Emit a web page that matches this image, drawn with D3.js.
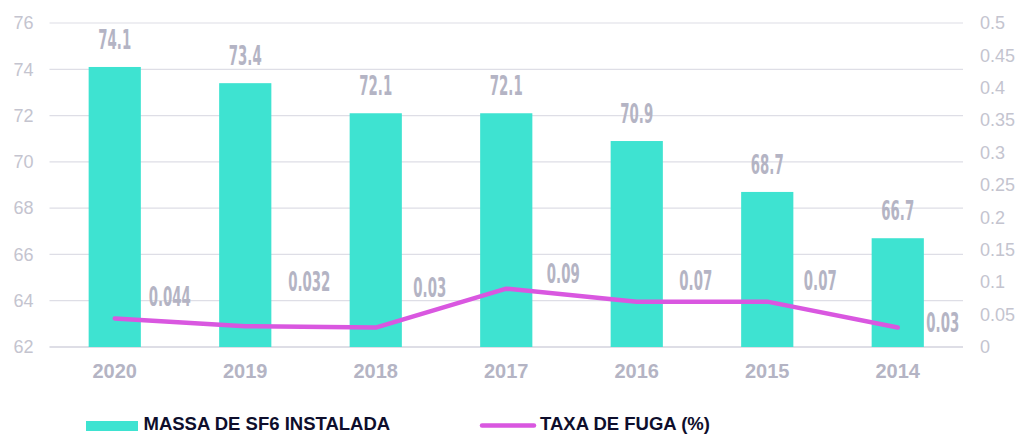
<!DOCTYPE html>
<html>
<head>
<meta charset="utf-8">
<script src="https://cdn.jsdelivr.net/npm/d3@7"></script>
<style>
  html, body { margin: 0; padding: 0; background: #ffffff; }
  svg { display: block; }
</style>
</head>
<body>
<svg id="chart" width="1020" height="434"></svg>
<script>
// Installed SF6 mass (bars, left axis) and leak rate (line, right axis) per year
const years = ["2020", "2019", "2018", "2017", "2016", "2015", "2014"];
const massValues = [74.1, 73.4, 72.1, 72.1, 70.9, 68.7, 66.7];
const leakRates = [0.044, 0.032, 0.03, 0.09, 0.07, 0.07, 0.03];
const leakLabels = ["0.044", "0.032", "0.03", "0.09", "0.07", "0.07", "0.03"];
const leftTicks = [62, 64, 66, 68, 70, 72, 74, 76];
const rightTicks = [0, 0.05, 0.1, 0.15, 0.2, 0.25, 0.3, 0.35, 0.4, 0.45, 0.5];
const rightTickLabels = ["0", "0.05", "0.1", "0.15", "0.2", "0.25", "0.3", "0.35", "0.4", "0.45", "0.5"];
const seriesNames = ["MASSA DE SF6 INSTALADA", "TAXA DE FUGA (%)"];

// Per-label nudges (px) for the leak-rate labels, relative to their point
const rateLabelNudge = [[55, -12], [64, -35], [54, -31], [57, -6], [59, -12], [53, -12], [45, 4]];

const BAR = "#3ee3d1";
const LINE = "#d957e0";
const GRID = "#dedee6";
const LABEL = "#b4b4c4";
const TICK = "#c4c4cf";
const SANS = "'Liberation Sans', Arial, sans-serif";
const NARROW = "'DejaVu Sans Condensed', 'DejaVu Sans', sans-serif";
const SQUEEZE = 0.57;

const svg = d3.select("#chart");
const plot = { left: 49.5, right: 963, top: 23, bottom: 347 };

const x = d3.scaleBand()
  .domain(years)
  .range([plot.left, plot.right])
  .paddingInner(0.6)
  .paddingOuter(0.3);

const yMass = d3.scaleLinear().domain([62, 76]).range([plot.bottom, plot.top]);
const yRate = d3.scaleLinear().domain([0, 0.5]).range([plot.bottom, plot.top]);

// Horizontal gridlines at the left-axis ticks
svg.append("g")
  .selectAll("line")
  .data(leftTicks)
  .join("line")
  .attr("x1", plot.left)
  .attr("x2", plot.right)
  .attr("y1", d => yMass(d))
  .attr("y2", d => yMass(d))
  .attr("stroke", GRID)
  .attr("stroke-width", (d, i) => i === 0 ? 1.8 : 1.2);

// Left axis
const leftAxis = svg.append("g")
  .attr("transform", `translate(${plot.left},0)`)
  .call(d3.axisLeft(yMass).tickValues(leftTicks).tickSize(0).tickPadding(16));
leftAxis.select(".domain").remove();
leftAxis.selectAll("text")
  .attr("fill", TICK)
  .style("font-family", SANS)
  .style("font-size", "18px");

// Right axis
const rightAxis = svg.append("g")
  .attr("transform", `translate(${plot.right},0)`)
  .call(d3.axisRight(yRate).tickValues(rightTicks).tickSize(0).tickPadding(17)
    .tickFormat((d, i) => rightTickLabels[i]));
rightAxis.select(".domain").remove();
rightAxis.selectAll("text")
  .attr("fill", TICK)
  .style("font-family", SANS)
  .style("font-size", "18px");

// Bottom (category) axis
const bottomAxis = svg.append("g")
  .attr("transform", `translate(0,${plot.bottom})`)
  .call(d3.axisBottom(x).tickSize(0).tickPadding(17));
bottomAxis.select(".domain").remove();
bottomAxis.selectAll("text")
  .attr("fill", LABEL)
  .attr("dy", "0.71em")
  .style("font-family", SANS)
  .style("font-size", "20px")
  .style("font-weight", "bold");

// Bars
svg.append("g")
  .selectAll("rect")
  .data(years)
  .join("rect")
  .attr("x", d => x(d))
  .attr("width", x.bandwidth())
  .attr("y", (d, i) => yMass(massValues[i]))
  .attr("height", (d, i) => plot.bottom - yMass(massValues[i]))
  .attr("fill", BAR);

// Bar value labels
svg.append("g")
  .selectAll("text")
  .data(years)
  .join("text")
  .attr("transform", (d, i) =>
    `translate(${x(d) + x.bandwidth() / 2},${yMass(massValues[i]) - 18}) scale(${SQUEEZE},1)`)
  .attr("text-anchor", "middle")
  .attr("fill", LABEL)
  .style("font-family", NARROW)
  .style("font-size", "26px")
  .style("font-weight", "bold")
  .text((d, i) => massValues[i].toFixed(1));

// Leak-rate line
const cx = d => x(d) + x.bandwidth() / 2;
const line = d3.line()
  .x(d => cx(d))
  .y((d, i) => yRate(leakRates[i]));

svg.append("path")
  .datum(years)
  .attr("d", line)
  .attr("fill", "none")
  .attr("stroke", LINE)
  .attr("stroke-width", 4.5)
  .attr("stroke-linecap", "round")
  .attr("stroke-linejoin", "round");

// Leak-rate labels
svg.append("g")
  .selectAll("text")
  .data(years)
  .join("text")
  .attr("transform", (d, i) =>
    `translate(${cx(d) + rateLabelNudge[i][0]},${yRate(leakRates[i]) + rateLabelNudge[i][1]}) scale(${SQUEEZE},1)`)
  .attr("text-anchor", "middle")
  .attr("fill", LABEL)
  .style("font-family", NARROW)
  .style("font-size", "26px")
  .style("font-weight", "bold")
  .text((d, i) => leakLabels[i]);

// Legend
const legend = svg.append("g");
legend.append("rect")
  .attr("x", 86).attr("y", 421)
  .attr("width", 52).attr("height", 10)
  .attr("fill", BAR);
legend.append("text")
  .attr("x", 143.5).attr("y", 429.5)
  .attr("fill", "#0e0e2c")
  .style("font-family", SANS)
  .style("font-size", "18.5px")
  .style("font-weight", "bold")
  .text(seriesNames[0]);
legend.append("line")
  .attr("x1", 482).attr("x2", 534)
  .attr("y1", 425.5).attr("y2", 425.5)
  .attr("stroke", LINE)
  .attr("stroke-width", 4.5)
  .attr("stroke-linecap", "round");
legend.append("text")
  .attr("x", 540).attr("y", 429.5)
  .attr("fill", "#0e0e2c")
  .style("font-family", SANS)
  .style("font-size", "18.5px")
  .style("font-weight", "bold")
  .text(seriesNames[1]);
</script>
</body>
</html>
